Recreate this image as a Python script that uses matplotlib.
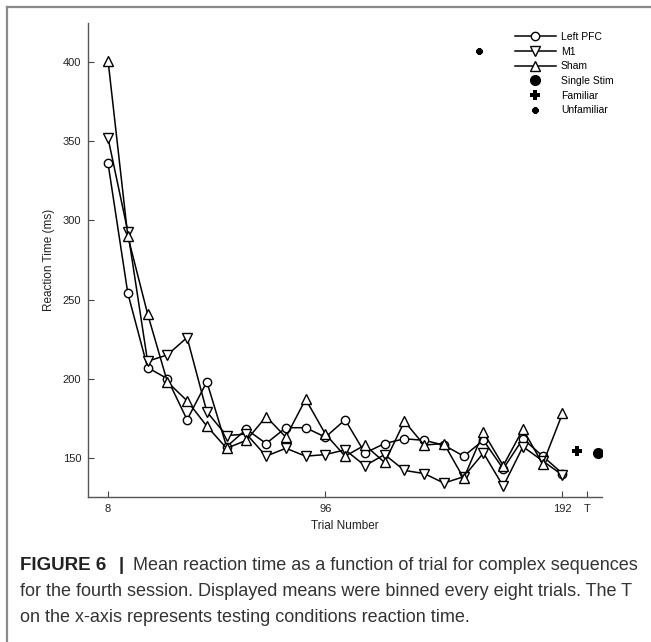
import matplotlib
matplotlib.use('Agg')
import matplotlib.pyplot as plt
from matplotlib.lines import Line2D

# binned mean reaction times (ms), every eight trials
trials = list(range(8, 193, 8))
left_pfc = [336, 254, 207, 200, 174, 198, 157, 168, 159, 169, 169, 163,
            174, 153, 159, 162, 161, 158, 151, 161, 143, 162, 151, 140]
m1 = [352, 293, 211, 215, 226, 179, 164, 165, 151, 156, 151, 152,
      155, 145, 152, 142, 140, 134, 138, 153, 132, 157, 148, 139]
sham = [401, 290, 241, 198, 186, 170, 156, 161, 176, 163, 187, 165,
        151, 158, 147, 173, 158, 159, 137, 166, 145, 168, 146, 178]

# testing conditions
test_labels = ['Single Stim', 'Familiar', 'Unfamiliar']
test_x = [206.5, 198, 158]
test_rt = [153, 154, 407]

x_ticks = [8, 96, 192, 202]
x_ticklabels = ['8', '96', '192', 'T']
y_ticks = [150, 200, 250, 300, 350, 400]

caption_lines = [
    'Mean reaction time as a function of trial for complex sequences',
    'for the fourth session. Displayed means were binned every eight trials. The T',
    'on the x-axis represents testing conditions reaction time.',
]

plt.rcParams['font.family'] = ['Liberation Sans', 'DejaVu Sans']

W, H = 651, 642
fig = plt.figure(figsize=(W / 100, H / 100), dpi=100)
ax = fig.add_axes([88.3 / W, 1 - 497.3 / H, (602 - 88.3) / W, (497.3 - 22.7) / H])

line_kw = dict(color='black', lw=1.1, markerfacecolor='white',
               markeredgecolor='black', markeredgewidth=1.0)
ax.plot(trials, left_pfc, marker='o', ms=6, label='Left PFC', **line_kw)
ax.plot(trials, m1, marker='v', ms=6.5, label='M1', **line_kw)
ax.plot(trials, sham, marker='^', ms=6.5, label='Sham', **line_kw)

ax.plot(test_x[0], test_rt[0], 'o', color='black', ms=7, ls='none', label=test_labels[0])
ax.plot(test_x[1], test_rt[1], 'P', color='black', ms=6.5, ls='none', mew=0, label=test_labels[1])
ax.plot(test_x[2], test_rt[2], marker=(8, 2, 0), color='black', ms=4.5, mew=2,
        ls='none', label=test_labels[2])

ax.set_xlim(0, 208)
ax.set_ylim(125, 425)
ax.set_xticks(x_ticks)
ax.set_xticklabels(x_ticklabels)
ax.set_yticks(y_ticks)
ax.tick_params(direction='in', length=4, width=0.8, colors='#444', labelsize=8,
               labelcolor='#222', pad=5)
for side in ['top', 'right']:
    ax.spines[side].set_visible(False)
for side in ['left', 'bottom']:
    ax.spines[side].set_color('#555')
    ax.spines[side].set_linewidth(1.0)

ax.set_xlabel('Trial Number', fontsize=8.5, color='#222', labelpad=4)
ax.set_ylabel('Reaction Time (ms)', fontsize=8.5, color='#222', labelpad=6)

ax.legend(loc='upper left', bbox_to_anchor=(515 / W, 1 - 32 / H),
          bbox_transform=fig.transFigure, frameon=False, fontsize=7.5,
          handlelength=3.9, handletextpad=0.5, labelspacing=0.45,
          borderpad=0, borderaxespad=0)

# page frame lines (top and left)
fig.add_artist(Line2D([7 / W, 1], [1 - 7 / H, 1 - 7 / H], transform=fig.transFigure,
                      color='#8a8a8a', lw=1.6))
fig.add_artist(Line2D([7 / W, 7 / W], [0, 1 - 7 / H], transform=fig.transFigure,
                      color='#8a8a8a', lw=1.6))

# caption
cap_y = [566, 592, 618]
fig.text(20 / W, 1 - cap_y[0] / H, 'FIGURE 6', fontsize=13.5, fontweight='bold',
         va='center', ha='left', color='#222')
fig.text(121 / W, 1 - cap_y[0] / H, '|', fontsize=13.5, fontweight='bold',
         va='center', ha='center', color='#222')
fig.text(133 / W, 1 - cap_y[0] / H, caption_lines[0], fontsize=13, va='center',
         ha='left', color='#333')
for yy, line in zip(cap_y[1:], caption_lines[1:]):
    fig.text(20 / W, 1 - yy / H, line, fontsize=13, va='center', ha='left', color='#333')

fig.savefig('out.png', dpi=100)
